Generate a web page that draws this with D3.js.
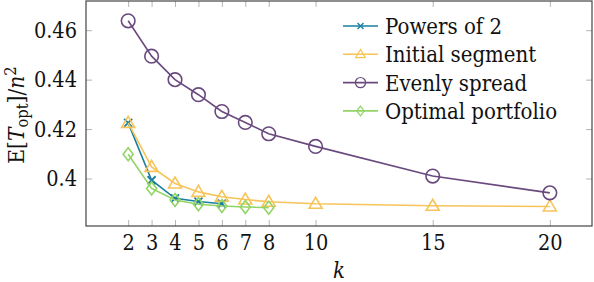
<!DOCTYPE html>
<html>
<head>
<meta charset="utf-8">
<script src="https://cdn.jsdelivr.net/npm/d3@7"></script>
<style>
body { margin: 0; background: #fff; }
text { font-family: "DejaVu Serif", serif; }
</style>
</head>
<body>
<div id="chart"></div>
<script>
// data
var seriesNames = ["Powers of 2", "Initial segment", "Evenly spread", "Optimal portfolio"];
var seriesColors = ["#1a7fa0", "#f7c45a", "#6a4a7e", "#92d566"];
var seriesMarkers = ["cross", "triangle", "circle", "diamond"];

var kPowers = [2, 3, 4, 5, 6];
var vPowers = [0.4225, 0.3993, 0.3920, 0.3907, 0.3898];

var kInitial = [2, 3, 4, 5, 6, 7, 8, 10, 15, 20];
var vInitial = [0.4225, 0.4047, 0.3980, 0.3946, 0.3926, 0.3915, 0.3906, 0.3898, 0.3890, 0.3887];

var kEven = [2, 3, 4, 5, 6, 7, 8, 10, 15, 20];
var vEven = [0.4638, 0.4495, 0.4400, 0.4339, 0.4271, 0.4227, 0.4181, 0.4130, 0.4010, 0.3942];

var kOptimal = [2, 3, 4, 5, 6, 7, 8];
var vOptimal = [0.4098, 0.3960, 0.3913, 0.3896, 0.3889, 0.3885, 0.3882];

var xTicks = [2, 3, 4, 5, 6, 7, 8, 10, 15, 20];
var yTicks = [0.40, 0.42, 0.44, 0.46];

var allK = [kPowers, kInitial, kEven, kOptimal];
var allV = [vPowers, vInitial, vEven, vOptimal];

var series = seriesNames.map(function(name, i){
  return {
    name: name, color: seriesColors[i], marker: seriesMarkers[i],
    points: allK[i].map(function(k, j){ return {x: k, y: allV[i][j]}; })
  };
});

var W = 594, H = 282;
var margin = {top: 1, right: 2, bottom: 56, left: 86};
var width = W - margin.left - margin.right;
var height = H - margin.top - margin.bottom;

var svg = d3.select("#chart").append("svg")
  .attr("width", W).attr("height", H);

var g = svg.append("g")
  .attr("transform", "translate(" + margin.left + "," + margin.top + ")");

var xScale = d3.scaleLinear().domain([0.2, 21.8]).range([0, width]);
var yScale = d3.scaleLinear().domain([0.3808, 0.4718]).range([height, 0]);

// ticks inside the frame (pgfplots style)
var tickLen = 6;
var tickColor = "#b5b5b5";
var fontSize = "22px";

// squeeze DejaVu Serif a bit so it runs like Computer Modern
function squeeze(sel, f){
  sel.each(function(){
    var t = d3.select(this);
    var ax = +t.attr("x") || 0;
    t.attr("transform", "translate(" + ax + ",0) scale(" + f + ",1) translate(" + (-ax) + ",0)");
  });
}

var xAxis = d3.axisBottom(xScale).tickValues(xTicks).tickSize(-tickLen).tickPadding(8)
  .tickFormat(d3.format("d"));
var gX = g.append("g").attr("transform", "translate(0," + height + ")").call(xAxis);
var gXTop = g.append("g").call(d3.axisTop(xScale).tickValues(xTicks).tickSize(-tickLen).tickFormat(""));

var yAxis = d3.axisLeft(yScale).tickValues(yTicks).tickSize(-tickLen).tickPadding(9)
  .tickFormat(function(d){ return d === 0.4 ? "0.4" : d3.format(".2f")(d); });
var gY = g.append("g").call(yAxis);
var gYRight = g.append("g").attr("transform", "translate(" + width + ",0)")
  .call(d3.axisRight(yScale).tickValues(yTicks).tickSize(-tickLen).tickFormat(""));

[gX, gXTop, gY, gYRight].forEach(function(a){
  a.select(".domain").remove();
  a.selectAll(".tick line").attr("stroke", tickColor);
  a.selectAll(".tick text").attr("fill", "#111").style("font-size", fontSize)
    .style("font-family", "DejaVu Serif, serif")
    .call(squeeze, 0.88);
});

var line = d3.line()
  .x(function(d){ return xScale(d.x); })
  .y(function(d){ return yScale(d.y); });

function drawMarker(sel, type, color){
  if(type === "circle"){
    sel.append("circle").attr("r", 6.8).attr("fill", "none")
      .attr("stroke", color).attr("stroke-width", 1.6);
  } else if(type === "triangle"){
    sel.append("path").attr("d", "M0,-6.5L6.5,4.5L-6.5,4.5Z").attr("fill", "none")
      .attr("stroke", color).attr("stroke-width", 1.6);
  } else if(type === "diamond"){
    sel.append("path").attr("d", "M0,-6.5L5,0L0,6.5L-5,0Z").attr("fill", "none")
      .attr("stroke", color).attr("stroke-width", 1.6);
  } else {
    sel.append("path").attr("d", "M-4,-4L4,4M-4,4L4,-4").attr("fill", "none")
      .attr("stroke", color).attr("stroke-width", 1.8);
  }
}

series.forEach(function(s){
  var sg = g.append("g");
  sg.append("path").datum(s.points).attr("d", line)
    .attr("fill", "none").attr("stroke", s.color).attr("stroke-width", 1.6);
  sg.selectAll(".m").data(s.points).enter().append("g")
    .attr("transform", function(d){ return "translate(" + xScale(d.x) + "," + yScale(d.y) + ")"; })
    .each(function(){ drawMarker(d3.select(this), s.marker, s.color); });
});

// frame
g.append("rect").attr("width", width).attr("height", height)
  .attr("fill", "none").attr("stroke", "#444").attr("stroke-width", 1.2);

// legend
var legend = svg.append("g").attr("transform", "translate(343,26)");
series.forEach(function(s, i){
  var row = legend.append("g").attr("transform", "translate(0," + (i * 28.3) + ")");
  row.append("line").attr("x1", 0).attr("x2", 35).attr("y1", 0).attr("y2", 0)
    .attr("stroke", s.color).attr("stroke-width", 1.6);
  var mk = row.append("g").attr("transform", "translate(17.5,0) scale(0.75)");
  drawMarker(mk, s.marker, s.color);
  row.append("text").attr("x", 42).attr("y", 8).style("font-size", fontSize).attr("fill", "#111")
    .text(s.name).call(squeeze, 0.9);
});

// axis labels
svg.append("text").attr("x", margin.left + xScale(11)).attr("y", 278)
  .attr("text-anchor", "middle").style("font-size", fontSize).style("font-style", "italic")
  .attr("fill", "#111").text("k").call(squeeze, 0.9);

var yl = svg.append("text")
  .attr("transform", "translate(24,115) rotate(-90) scale(0.92,1)")
  .attr("text-anchor", "middle").style("font-size", fontSize).attr("fill", "#111");
yl.append("tspan").text("E[");
yl.append("tspan").style("font-style", "italic").text("T");
yl.append("tspan").attr("dy", 4).style("font-size", "16px").text("opt");
yl.append("tspan").attr("dy", -4).text("]/");
yl.append("tspan").style("font-style", "italic").text("n");
yl.append("tspan").attr("dy", -8).style("font-size", "16px").text("2");
</script>
</body>
</html>
